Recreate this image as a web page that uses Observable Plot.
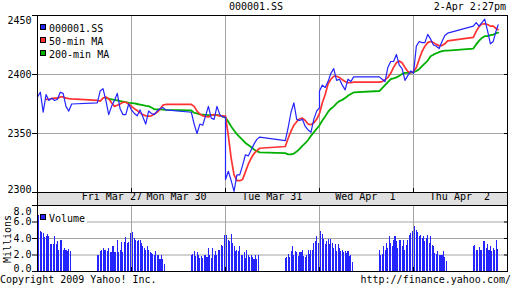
<!DOCTYPE html>
<html><head><meta charset="utf-8">
<script src="https://cdn.jsdelivr.net/npm/d3@7"></script>
<script src="https://cdn.jsdelivr.net/npm/@observablehq/plot@0.6"></script>
<style>
body{margin:0;background:#fff;}
#wrap{position:relative;width:512px;height:288px;overflow:hidden;font-family:"DejaVu Sans Mono",monospace;font-size:10px;color:#000;}
#wrap svg{position:absolute;left:0;top:0;}
.t{position:absolute;line-height:12px;white-space:pre;}
.sw{position:absolute;width:4px;height:4px;border:1px solid #000;}
</style></head><body><div id="wrap"></div>
<script>
// ---- data ----
const days = ["Fri Mar 27", "Mon Mar 30", "Tue Mar 31", "Wed Apr  1", "Thu Apr  2"];
const dayMinutes = 330;                       // 9:30 - 15:00 incl. lunch break
const dayBounds = [330, 660, 990, 1320];
const dayLabelMinutes = [261, 488, 824, 1151, 1483];
const sampleMinutes = [0,10,20,30,40,50,60,70,80,90,100,110,120,210,220,230,240,250,260,270,280,290,300,310,320,330];
const lastSampleMinutes = [0,10,20,30,40,50,60,70,80,90,100,110,120,210,220,230,240,250,260,270,280,290,297];
const volSessionStart = [0, 210];

const price = [
  [2381,2385,2368,2383,2378,2380,2378,2379,2385,2384,2373,2369,2375, 2376,2386,2388,2378,2366,2373,2378,2384,2371,2366,2366,2375,2370],
  [2370,2367,2365,2370,2364,2358,2369,2367,2366,2369,2371,2372,2370, 2368,2358,2350,2358,2357,2365,2373,2363,2362,2373,2366,2364,2364],
  [2311,2318,2310,2301,2315,2315,2323,2332,2331,2336,2341,2345,2347, 2344,2355,2368,2376,2362,2361,2362,2356,2353,2351,2362,2369,2372],
  [2386,2391,2389,2394,2401,2405,2395,2396,2391,2387,2396,2394,2398, 2398,2396,2394,2406,2411,2411,2417,2408,2405,2395,2399,2403,2401],
  [2401,2424,2428,2427,2427,2434,2430,2425,2424,2422,2428,2433,2435, 2441,2444,2441,2444,2447,2437,2426,2428,2437,2442]
];
const ma50 = [
  [null,null,null,2379,2379,2379.5,2380,2380,2381,2381,2380,2379.5,2379.3, 2378,2377.5,2380,2381,2379.5,2376,2373,2374,2375,2376.5,2376.5,2375,2373],
  [2373,2371,2369.5,2367.5,2366,2365,2364.7,2365,2366.5,2368,2370.5,2374,2374.6, 2374.6,2373,2369,2366.5,2365,2364.5,2364,2365.5,2366,2365.5,2365,2365,2364.7],
  [2364.5,2348,2329,2315,2310,2310,2311,2317.5,2324,2329,2333,2335.5,2337.5, 2339,2346,2352,2357,2360,2362.5,2363,2361,2358,2357.5,2359,2362,2367],
  [2367,2376,2383,2392,2396,2398.5,2398.5,2397.5,2395.5,2394,2393,2393,2393.5, 2393.5,2394,2395.5,2397.5,2401,2406,2410,2411.5,2410,2406,2402.5,2401.5,2402.5],
  [2402.5,2406,2413,2419.5,2424,2427,2428,2427,2425.5,2424.5,2424.5,2426,2428.5, 2431.5,2436.5,2440.5,2442.8,2443,2442.4,2441,2441,2439,2438]
];
const ma200 = [
  [null,null,null,null,null,null,null,null,null,null,null,null,null, null,null,null,2380,2379.5,2379,2378.5,2378,2377.5,2377,2376.5,2376,2375.8],
  [2375.8,2375.5,2375,2374.5,2374,2373.5,2373.2,2372,2370.5,2370.5,2370.5,2370.3,2370, 2369.5,2367.5,2367,2366.2,2366,2365.8,2365.6,2365.5,2365.5,2365.5,2365.3,2364.5,2363.5],
  [2363.5,2360,2356,2352.5,2349.5,2347,2344.6,2342,2340.3,2338.6,2336.5,2335,2334, 2333.3,2332.3,2332.3,2333,2334.7,2337,2339.5,2341.8,2344.5,2348,2351,2354,2356.8],
  [2357,2361,2364.5,2368.3,2371,2373,2375.5,2377.5,2378.5,2380,2382,2383.5,2384.8, 2386,2388.5,2391,2393.5,2396,2396.7,2397.5,2399,2400.5,2401.4,2401.4,2401.5,2402],
  [2402,2403,2404.5,2407,2409.5,2411.8,2415.5,2416.8,2418,2419,2419.8,2420.2,2420.3, 2422,2425.5,2428.5,2431,2432.5,2432.5,2433.3,2433.8,2435,2435.5]
];
// volume in millions, 5-minute bars
const volAM = [
  [7.0,6.8,4.8,4.7,4.6,4.1,4.3,4.5,4.3,3.3,3.3,3.3,4.2,3.3,3.6,2.5,3.8,3.8,2.6,2.8,2.5,2.4,2.7,2.4],
  [4.4,4.7,4.0,3.8,3.6,3.8,3.7,3.4,3.0,2.8,2.5,3.0,2.5,2.3,2.2,2.1,1.9,2.4,2.0,1.9,1.5,2.0,1.5,0.8],
  [5.2,4.4,3.8,3.6,4.5,3.4,3.0,2.4,2.5,2.4,3.0,2.0,2.0,2.3,1.6,2.6,1.9,1.7,1.9,1.7,1.4,1.9,1.4,2.0],
  [4.6,4.9,4.5,3.9,3.3,3.6,3.9,3.3,3.9,3.4,2.8,3.3,2.4,3.3,2.8,2.4,2.5,2.3,2.4,2.2,2.4,1.8,1.9,1.05],
  [4.6,5.5,5.0,4.7,4.2,4.4,4.0,4.2,3.6,4.0,4.4,3.4,4.2,3.2,3.0,2.2,2.1,2.4,2.0,2.0,2.0,2.4,1.7,1.2]
];
const volPM = [
  [1.9,1.9,2.4,2.5,2.8,2.5,2.5,2.4,2.8,2.3,2.3,3.0,2.3,2.3,3.8,2.3,2.6,3.5,2.3,3.5,4.1,3.4,3.5,4.6],
  [1.9,2.1,2.4,1.8,2.3,2.0,1.6,1.8,1.6,2.0,1.9,1.7,2.8,2.0,1.6,2.8,2.0,2.4,2.0,2.6,2.6,3.2,3.0,4.4],
  [1.6,1.7,2.1,1.7,2.4,3.0,2.0,2.4,2.3,1.8,2.3,2.3,2.5,1.8,1.7,2.0,2.5,2.1,2.6,2.6,3.4,3.6,4.3,3.4],
  [2.5,2.0,2.1,3.0,2.6,3.4,2.8,4.2,3.4,3.0,3.8,4.2,3.6,2.8,3.8,3.8,3.0,3.8,2.6,3.2,3.8,4.4,4.6,4.8],
  [3.0,3.2,2.6,2.5,2.9,2.5,2.5,3.6,3.6,2.8,3.3,2.6,3.0,2.4,2.8,2.6,3.7,2.7]
];
const priceTicks = [2300, 2350, 2400, 2450];
const volTicks = [0, 2, 4, 6, 8];
const seriesNames = ["000001.SS", "50-min MA", "200-min MA"];

// ---- styles ----
const BLUE = "#2424ff", RED = "#ff3232", GREEN = "#00b000", GRID = "#a4a4a4", BAND = "#e0e0e0";
const font = {fontFamily: "DejaVu Sans Mono", fontSize: "10px", overflow: "visible"};

// ---- tables ----
const rows = [];
days.forEach((d, i) => {
  const mins = i < days.length - 1 ? sampleMinutes : lastSampleMinutes;
  mins.forEach((m, j) => rows.push({t: i * dayMinutes + m, price: price[i][j], ma50: ma50[i][j], ma200: ma200[i][j]}));
});
const volRows = [];
days.forEach((d, i) => {
  [volAM[i], volPM[i]].forEach((arr, s) => arr.forEach((v, k) => {
    const t1 = i * dayMinutes + volSessionStart[s] + 5 * k;
    volRows.push({t1, t2: t1 + 5, v});
  }));
});
const dayLabels = days.map((label, i) => ({label, t: dayLabelMinutes[i]}));
const xDomain = [0, dayMinutes * days.length];
const blank = () => "";

const wrap = document.getElementById("wrap");
const add = (html) => { const e = document.createElement("div"); e.innerHTML = html; const n = e.firstChild; wrap.appendChild(n); return n; };

// date band (behind the charts)
add(`<div style="position:absolute;left:37px;top:192px;width:471px;height:14px;box-sizing:border-box;border:1px solid #000;background:${BAND}"></div>`);

const pMin = priceTicks[0], pMax = priceTicks[priceTicks.length - 1];
const main = Plot.plot({
  width: 512, height: 288,
  marginLeft: 37, marginRight: 5, marginTop: 15, marginBottom: 96,
  x: {domain: xDomain},
  y: {domain: [pMin, pMax]},
  style: font,
  marks: [
    Plot.ruleX(dayBounds, {stroke: GRID}),
    Plot.ruleY(priceTicks.filter(v => v > pMin && v < pMax), {stroke: GRID}),
    Plot.line(rows, {x: "t", y: "ma200", stroke: GREEN, strokeWidth: 1.8}),
    Plot.line(rows, {x: "t", y: "ma50", stroke: RED, strokeWidth: 1.7}),
    Plot.line(rows, {x: "t", y: "price", stroke: BLUE, strokeWidth: 1.2}),
    Plot.frame({stroke: "black"}),
    Plot.axisY({ticks: priceTicks, tickSize: 5, tickFormat: blank, label: null}),
    Plot.axisY({anchor: "right", ticks: priceTicks, tickSize: 4, dx: -4, tickFormat: blank, label: null}),
    Plot.axisX({ticks: dayBounds, tickSize: 4, dy: -4, tickFormat: blank, label: null}),
    Plot.text(priceTicks.filter(v => v > pMin && v < pMax), {y: d => d, text: d => String(d), frameAnchor: "left", dx: -6, textAnchor: "end"}),
    Plot.text([pMax], {y: d => d, text: d => String(d), frameAnchor: "left", dx: -6, dy: 5, textAnchor: "end"}),
    Plot.text([pMin], {y: d => d, text: d => String(d), frameAnchor: "left", dx: -6, dy: -3, textAnchor: "end"}),
    Plot.text(dayLabels, {x: "t", text: "label", frameAnchor: "bottom", dy: 7})
  ]
});
wrap.appendChild(main);

const vMin = volTicks[0], vMax = volTicks[volTicks.length - 1];
const fmt = d3.format(".1f");
const vol = Plot.plot({
  width: 512, height: 288,
  marginLeft: 37, marginRight: 5, marginTop: 205, marginBottom: 17,
  x: {domain: xDomain},
  y: {domain: [vMin, vMax]},
  style: font,
  marks: [
    Plot.ruleY(volTicks.filter(v => v > vMin && v < vMax), {stroke: GRID}),
    Plot.rectY(volRows, {x1: "t1", x2: "t2", y: "v", fill: BLUE, insetRight: 0.4, shapeRendering: "crispEdges"}),
    Plot.ruleX(dayBounds, {stroke: GRID}),
    Plot.frame({stroke: "black"}),
    Plot.axisY({ticks: volTicks, tickSize: 5, tickFormat: blank, label: null}),
    Plot.axisY({anchor: "right", ticks: volTicks, tickSize: 4, dx: -4, tickFormat: blank, label: null}),
    Plot.axisX({ticks: dayBounds, tickSize: 4, dy: -4, tickFormat: blank, label: null}),
    Plot.text(volTicks.filter(v => v > vMin && v < vMax), {y: d => d, text: d => fmt(d), frameAnchor: "left", dx: -6, textAnchor: "end"}),
    Plot.text([vMax], {y: d => d, text: d => fmt(d), frameAnchor: "left", dx: -6, dy: 6, textAnchor: "end"}),
    Plot.text([vMin], {y: d => d, text: d => fmt(d), frameAnchor: "left", dx: -6, dy: -2.5, textAnchor: "end"})
  ]
});
wrap.appendChild(vol);

// texts
add(`<div class="t" style="left:0;width:512px;text-align:center;top:1px">000001.SS</div>`);
add(`<div class="t" style="right:6px;top:1px">2-Apr 2:27pm</div>`);
const swColors = [BLUE, RED, GREEN];
seriesNames.forEach((name, i) => {
  add(`<div class="sw" style="left:40px;top:${24 + 13 * i}px;background:${swColors[i]}"></div>`);
  add(`<div class="t" style="left:49px;top:${23 + 13 * i}px">${name}</div>`);
});
add(`<div style="position:absolute;left:39px;top:212px;width:48px;height:13px;background:#fff"></div>`);
add(`<div class="sw" style="left:40px;top:214px;background:${BLUE}"></div>`);
add(`<div class="t" style="left:49px;top:213px">Volume</div>`);
add(`<div class="t" style="left:8px;top:239px;transform:translate(-50%,-50%) rotate(-90deg)">Millions</div>`);
add(`<div class="t" style="left:0;top:274px">Copyright 2009 Yahoo! Inc.</div>`);
add(`<div class="t" style="right:1px;top:274px">http://finance.yahoo.com/</div>`);
</script></body></html>
